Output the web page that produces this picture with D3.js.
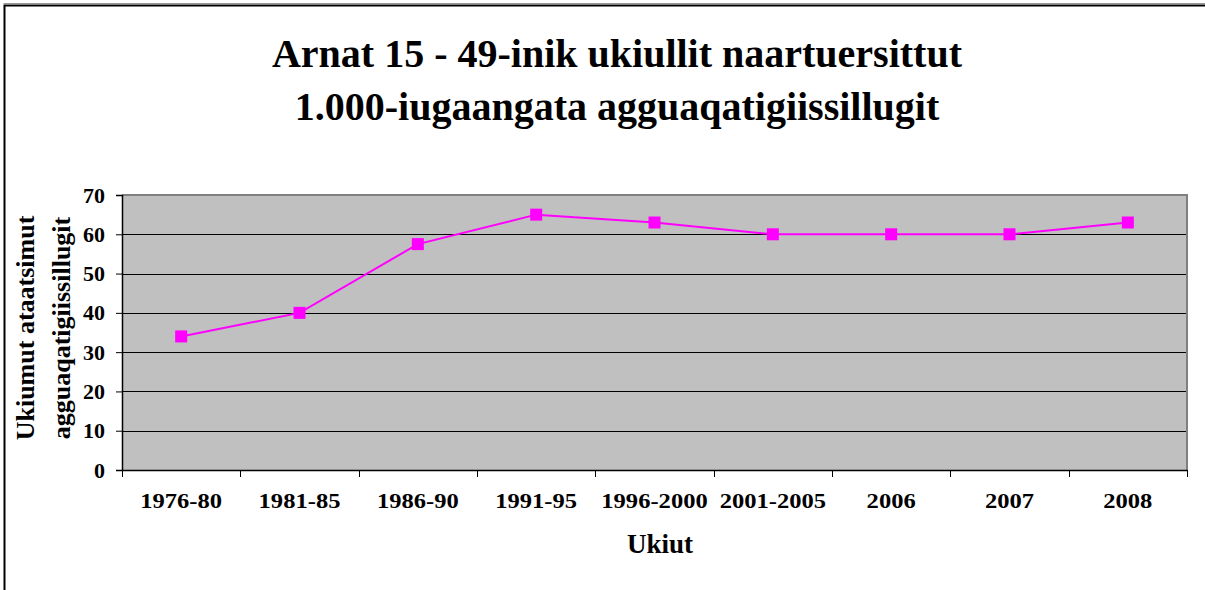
<!DOCTYPE html>
<html><head><meta charset="utf-8">
<script src="https://cdn.jsdelivr.net/npm/d3@7"></script>
<style>html,body{margin:0;padding:0;background:#fff}svg{display:block}text{font-family:"Liberation Serif","Times New Roman",serif;font-weight:bold;fill:#000}</style>
</head><body><svg id="c" width="1205" height="590"></svg>
<script>
const titleLines = ["Arnat 15 - 49-inik ukiullit naartuersittut", "1.000-iugaangata agguaqatigiissillugit"];
const categories = ["1976-80","1981-85","1986-90","1991-95","1996-2000","2001-2005","2006","2007","2008"];
const values = [34, 40, 57.5, 65, 63, 60, 60, 60, 63];
const yTicks = [0,10,20,30,40,50,60,70];
const xTitle = "Ukiut";
const yTitleLines = ["Ukiumut ataatsimut", "agguaqatigiissillugit"];

const svg = d3.select("#c");
const W = 1205, H = 590;
const m = {left:122, right:1187, top:195, bottom:470};
svg.append("rect").attr("width",W).attr("height",H).attr("fill","#fff");
// outer frame
svg.append("path").attr("d",`M4.5,${H} V5.5 H${W}`).attr("fill","none").attr("stroke","#000").attr("stroke-width",2);
svg.append("path").attr("d",`M3.5,3.5 H${W}`).attr("fill","none").attr("stroke","#999").attr("stroke-width",1);

const x = d3.scaleBand().domain(categories).range([m.left,m.right]);
const y = d3.scaleLinear().domain([0,70]).range([m.bottom,m.top]);

// plot background
svg.append("rect").attr("x",m.left).attr("y",m.top).attr("width",m.right-m.left).attr("height",m.bottom-m.top).attr("fill","#C0C0C0");
// gridlines
svg.append("g").selectAll("line").data(yTicks.filter(d=>d>0&&d<70)).join("line")
  .attr("x1",m.left).attr("x2",m.right).attr("y1",d=>Math.round(y(d))+0.5).attr("y2",d=>Math.round(y(d))+0.5)
  .attr("stroke","#000").attr("stroke-width",1);
// top and right border gray
svg.append("path").attr("d",`M${m.left},${m.top} H${m.right} V${m.bottom}`).attr("fill","none").attr("stroke","#808080").attr("stroke-width",2);

// axes
const yAxis = d3.axisLeft(y).tickValues(yTicks).tickSize(6).tickPadding(11).tickFormat(d3.format("d"));
const gy = svg.append("g").attr("transform",`translate(${m.left},0)`).call(yAxis);
gy.select(".domain").attr("stroke","#000").attr("stroke-width",1.5);
gy.selectAll(".tick line").attr("stroke","#000");
gy.selectAll("text").style("font-size","22px").style("font-family",'"Liberation Serif",serif').style("font-weight","bold").attr("fill","#000");

const xAxis = d3.axisBottom(x).tickSize(0).tickPadding(23);
const gx = svg.append("g").attr("transform",`translate(0,${m.bottom})`).call(xAxis);
gx.select(".domain").attr("stroke","#000").attr("stroke-width",1.5);
gx.selectAll("text").style("font-size","21px").style("font-family",'"Liberation Serif",serif').style("font-weight","bold").attr("fill","#000")
  .attr("transform","scale(1.17,1)");
// boundary ticks
const bounds = categories.map(c=>x(c)).concat([m.right]);
svg.append("g").selectAll("line").data(bounds).join("line")
  .attr("x1",d=>Math.round(d)+0.5).attr("x2",d=>Math.round(d)+0.5).attr("y1",m.bottom).attr("y2",m.bottom+7)
  .attr("stroke","#000").attr("stroke-width",1);

// line
const line = d3.line().x((d,i)=>x(categories[i])+x.bandwidth()/2).y(d=>y(d));
svg.append("path").datum(values).attr("d",line).attr("fill","none").attr("stroke","#FF00FF").attr("stroke-width",2);
svg.append("g").selectAll("rect").data(values).join("rect")
  .attr("x",(d,i)=>x(categories[i])+x.bandwidth()/2-6).attr("y",d=>y(d)-6)
  .attr("width",12).attr("height",12).attr("fill","#FF00FF");

// titles
svg.append("g").selectAll("text").data(titleLines).join("text")
  .attr("x",617).attr("y",(d,i)=>67+i*53).attr("text-anchor","middle").style("font-size","40px").text(d=>d);
svg.append("text").attr("x",660).attr("y",553).attr("text-anchor","middle").style("font-size","27px").text(xTitle);
svg.append("g").selectAll("text").data(yTitleLines).join("text")
  .attr("transform",(d,i)=>`translate(${34+i*36},328) rotate(-90)`).attr("text-anchor","middle").style("font-size","26px").text(d=>d);
</script></body></html>
